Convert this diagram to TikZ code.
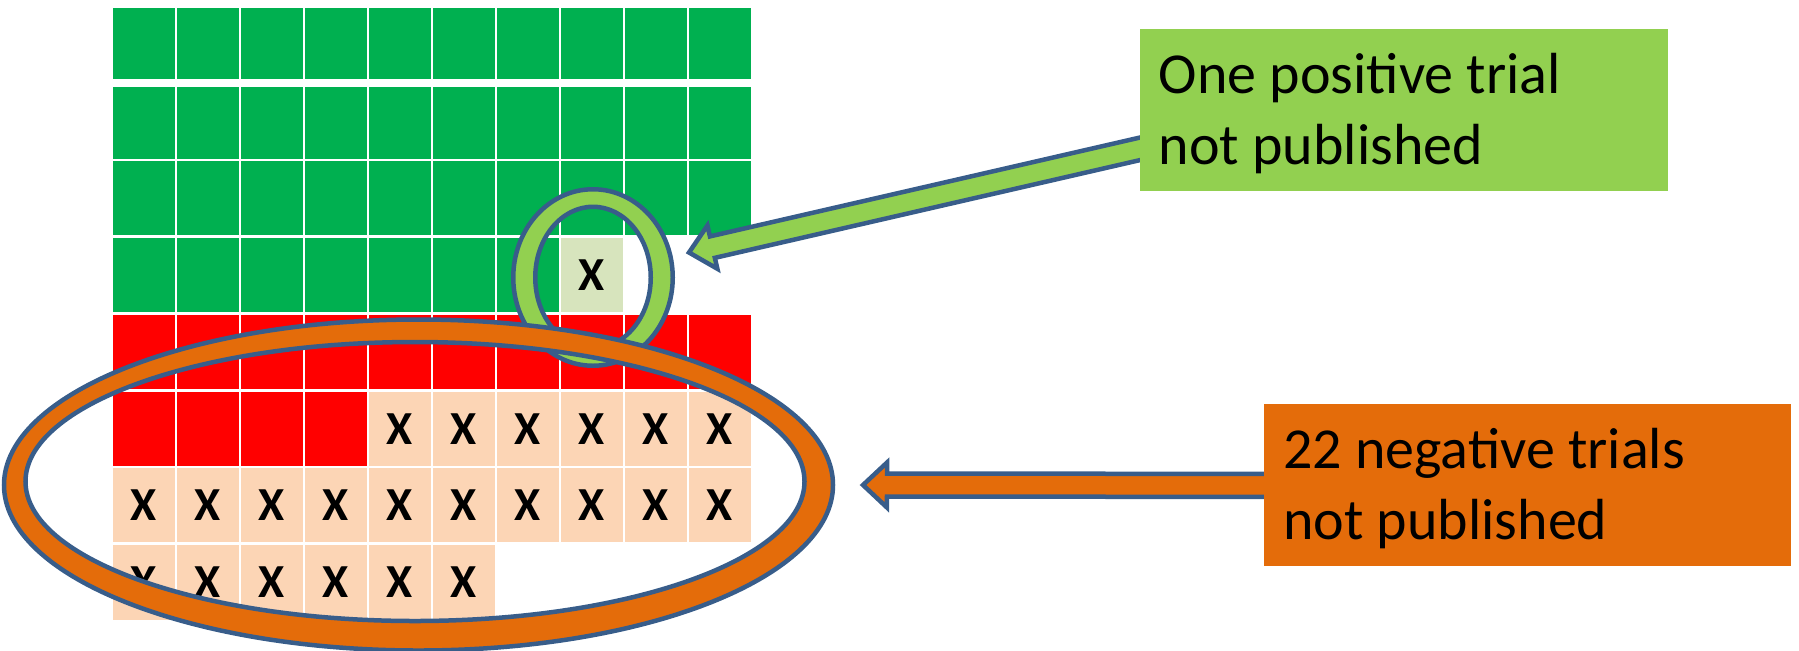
\documentclass[tikz,border=0pt]{standalone}
\usepackage{fontspec}
\setmainfont{Carlito}
\usepackage{tikz}
\usetikzlibrary{calc}
\definecolor{cellgreen}{HTML}{00B050}
\definecolor{cellred}{HTML}{FF0000}
\definecolor{cellpeach}{HTML}{FCD5B5}
\definecolor{cellpale}{HTML}{D7E4BD}
\definecolor{boxgreen}{HTML}{92D050}
\definecolor{boxorange}{HTML}{E46C0A}
\definecolor{edgeblue}{HTML}{385D8A}
\tikzset{cell/.style={rectangle, inner sep=0pt, minimum width=30.75pt,
    font=\fontsize{23.7}{28}\selectfont\bfseries}}
\tikzset{cg/.style={fill=cellgreen, node contents={}},
  cr/.style={fill=cellred, node contents={}},
  cp/.style={fill=cellpeach, node contents={X}},
  cl/.style={fill=cellpale, node contents={X}}}
\tikzset{ring/.style={draw=edgeblue, line width=2.25pt, even odd rule},
  blockarr/.style={draw=edgeblue, line width=2.25pt, line join=miter},
  notebox/.style={rectangle, inner sep=0pt, anchor=north west},
  notetext/.style={inner sep=0pt, anchor=base west, align=left,
    font=\fontsize{29}{35.5}\selectfont}}
% #1 style, #2 tail, #3 tip, #4 half shaft, #5 half head, #6 head length
\newcommand{\blockarrow}[6]{
  \path ($(#3)!#6!(#2)$) coordinate (hb);
  \draw[blockarr, #1] ($(#2)!#4!90:(#3)$) -- ($(hb)!#4!90:(#3)$)
    -- ($(hb)!#5!90:(#3)$) -- (#3) -- ($(hb)!#5!-90:(#3)$)
    -- ($(hb)!#4!-90:(#3)$) -- ($(#2)!#4!-90:(#3)$) -- cycle;
}

\begin{document}
\begin{tikzpicture}[x=0.5pt,y=-0.5pt]
  \useasboundingbox (0,0) rectangle (1799,650);
  % trial grid
  \foreach \yc/\h/\codes [count=\r] in {
    43.7/35.65pt/{cg,cg,cg,cg,cg,cg,cg,cg,cg,cg},
    123/35.7pt/{cg,cg,cg,cg,cg,cg,cg,cg,cg,cg},
    198.3/37pt/{cg,cg,cg,cg,cg,cg,cg,cg,cg,cg},
    275/37pt/{cg,cg,cg,cg,cg,cg,cg,cl},
    351.9/37.15pt/{cr,cr,cr,cr,cr,cr,cr,cr,cr,cr},
    428.7/37pt/{cr,cr,cr,cr,cp,cp,cp,cp,cp,cp},
    505.3/37pt/{cp,cp,cp,cp,cp,cp,cp,cp,cp,cp},
    582.4/37.35pt/{cp,cp,cp,cp,cp,cp}%
  } {
    \foreach \k [count=\c] in \codes {
      \node[cell, minimum height=\h, name=c\r-\c,
        at={({143.75+64*(\c-1)}, \yc)}, \k];
    }
  }

  \coordinate (pring) at (593,277.5);
  \coordinate (nring) at (418.5,485);
  \coordinate (nhole) at (415,481.5);

  \node[notebox, fill=boxgreen, minimum width=264pt, minimum height=80.85pt]
    (pos) at (1140,29) {};
  \node[notebox, fill=boxorange, minimum width=263.5pt, minimum height=81pt]
    (neg) at (1264,404) {};

  \coordinate (postail) at ($(pos.south west)+(10,-45)$);
  \coordinate (postip) at (689,252.5);
  \coordinate (negtail) at ($(neg.west)+(10,0)$);
  \coordinate (negtip) at (863,485);

  % one positive trial
  \path[ring, fill=boxgreen] (pring) ellipse [x radius=39.875pt, y radius=44.125pt]
    (pring) ellipse [x radius=28.875pt, y radius=35.375pt];
  \blockarrow{fill=boxgreen}{postail}{postip}{5.5pt}{11.1pt}{12pt}

  % negative trials
  \path[ring, fill=boxorange] (nring) ellipse [x radius=207.25pt, y radius=82.75pt]
    (nhole) ellipse [x radius=194.75pt, y radius=69.75pt];
  \blockarrow{fill=boxorange}{negtail}{negtip}{5.75pt}{11.25pt}{12pt}

  \node[notebox, fill=boxgreen, minimum width=264pt, minimum height=80.85pt]
    at (pos.north west) {};
  \node[notebox, fill=boxorange, minimum width=263.5pt, minimum height=81pt]
    at (neg.north west) {};
  \node[notetext] (postext) at (1158.5,164.6) {One positive trial\\not published};
  \node[notetext] (negtext) at (1283,539.7) {22 negative trials\\not published};
\end{tikzpicture}
\end{document}
